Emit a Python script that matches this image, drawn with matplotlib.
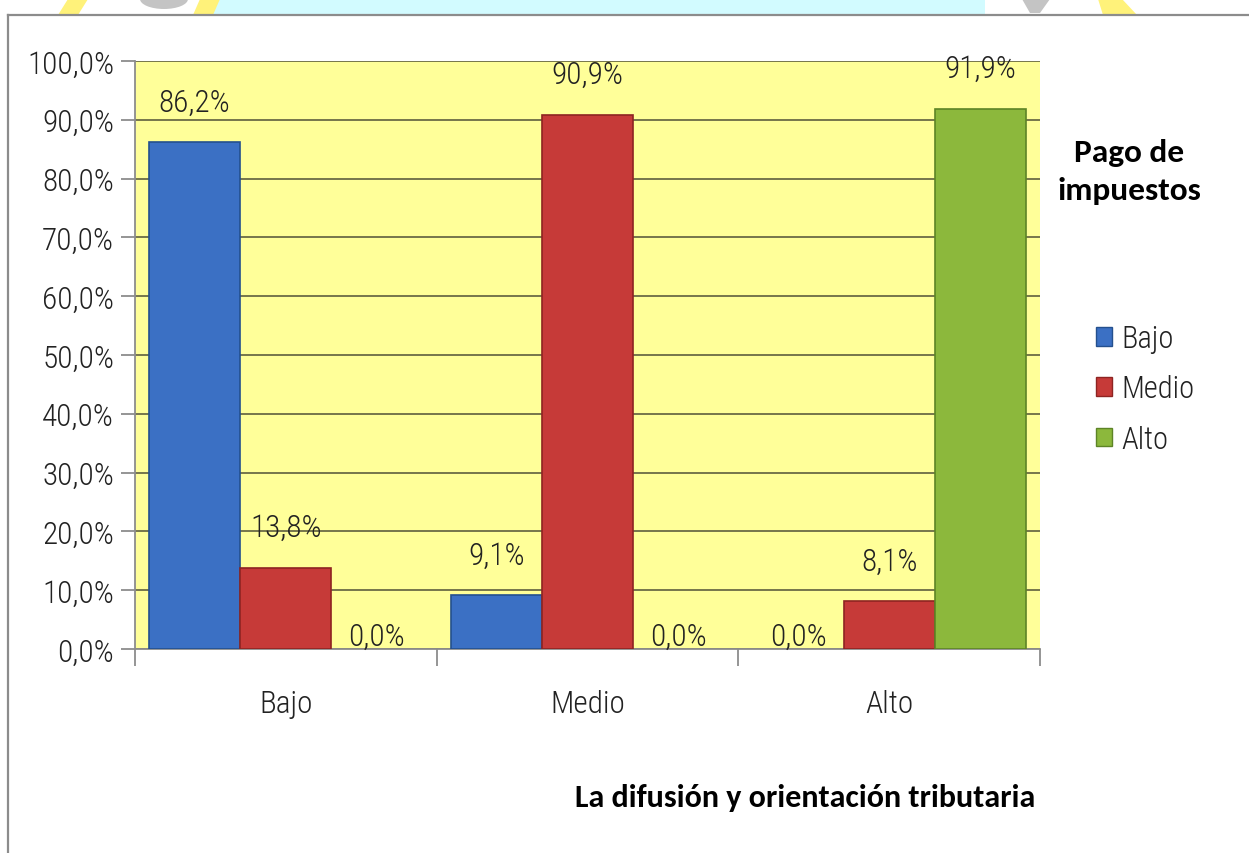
import matplotlib
matplotlib.use("Agg")
import matplotlib.pyplot as plt
from matplotlib.patches import Rectangle, Patch, Polygon, Ellipse
from matplotlib.lines import Line2D
import numpy as np

categories = ["Bajo", "Medio", "Alto"]
series_names = ["Bajo", "Medio", "Alto"]
bajo_vals = [86.2, 9.1, 0.0]
medio_vals = [13.8, 90.9, 8.1]
alto_vals = [0.0, 0.0, 91.9]
yticks = [0, 10, 20, 30, 40, 50, 60, 70, 80, 90, 100]

colors = ["#3b70c4", "#c63a38", "#8cb83c"]
edges = ["#24508e", "#8e2422", "#5d8426"]

W, H = 1249, 854
fig = plt.figure(figsize=(W / 100, H / 100), dpi=100)
fig.patch.set_facecolor("white")


def px(xp, yp):
    return (xp / W, 1 - yp / H)


# partial watermark above the chart frame
fig.add_artist(Rectangle(px(213, 16), 772 / W, 16 / H, transform=fig.transFigure,
                         facecolor="#d2fbff", edgecolor="none", zorder=0))
for poly, col in [([(58, 16), (78, 16), (88, 0), (68, 0)], "#fff27a"),
                  ([(193, 16), (213, 16), (220, 0), (200, 0)], "#fff27a"),
                  ([(1103, 16), (1137, 16), (1122, 0), (1098, 0)], "#fff27a"),
                  ([(1022, 0), (1050, 0), (1040, 14), (1030, 14)], "#c4c4c4")]:
    fig.add_artist(Polygon([px(a, b) for a, b in poly], closed=True, transform=fig.transFigure,
                           facecolor=col, edgecolor="none", zorder=0))
fig.add_artist(Ellipse(px(164, 0), 48 / W, 20 / H, transform=fig.transFigure,
                       facecolor="#c4c4c4", edgecolor="none", zorder=0))

# chart frame
fig.add_artist(Line2D([8 / W, 1], [1 - 16 / H, 1 - 16 / H], transform=fig.transFigure,
                      color="#8c8c8c", lw=1.6))
fig.add_artist(Line2D([8 / W, 8 / W], [0, 1 - 16 / H], transform=fig.transFigure,
                      color="#8c8c8c", lw=1.6))

ax = fig.add_axes([135 / W, 1 - 650 / H, (1040 - 135) / W, (650 - 62) / H])
ax.set_facecolor("#ffff99")
ax.set_xlim(-0.5, 2.5)
ax.set_ylim(0, 100)

bw = 0.302
x = np.arange(len(categories))
all_vals = [bajo_vals, medio_vals, alto_vals]
tick_font = dict(family="Roboto Condensed", weight=300, size=22.5, color="#222222")
for i, vals in enumerate(all_vals):
    xs = x + (i - 1) * bw
    lws = [1.2 if v > 0 else 0 for v in vals]
    ax.bar(xs, vals, width=bw, color=colors[i], edgecolor=edges[i], linewidth=lws,
           label=series_names[i], zorder=3)
    for xi, v in zip(xs, vals):
        off = 29 if v > 0 else 9
        ax.annotate(f"{v:.1f}%".replace(".", ","), (xi, v), xytext=(0, off),
                    textcoords="offset points", ha="center", va="center",
                    zorder=4, **tick_font)

ax.set_yticks(yticks)
ax.set_yticklabels([f"{t:.1f}%".replace(".", ",") for t in yticks], **tick_font)
ax.yaxis.grid(True, color="#6b6b45", linewidth=1.3, zorder=1)
ax.set_axisbelow(True)
ax.set_xticks(x)
ax.set_xticklabels(categories, **tick_font)
ax.set_xticks([-0.5, 0.5, 1.5, 2.5], minor=True)
ax.tick_params(axis="x", which="major", length=0, pad=29)
ax.tick_params(axis="x", which="minor", length=12, color="#8c8c8c", width=1.3)
ax.tick_params(axis="y", length=10, color="#8c8c8c", width=1.3, pad=5)
for s in ["top", "right"]:
    ax.spines[s].set_visible(False)
for s in ["left", "bottom"]:
    ax.spines[s].set_color("#8c8c8c")
    ax.spines[s].set_linewidth(1.3)

fig.text(1129 / W, 1 - 172 / H, "Pago de\nimpuestos", ha="center", va="center",
         family="Carlito", weight="bold", size=24, linespacing=1.45)
fig.text(805 / W, 1 - 798 / H, "La difusión y orientación tributaria", ha="center", va="center",
         family="Carlito", weight="bold", size=23)

handles = [Patch(facecolor=colors[i], edgecolor=edges[i]) for i in range(3)]
leg = fig.legend(handles, series_names, loc="center left", bbox_to_anchor=(1068 / W, 1 - 390 / H),
                 frameon=False, prop=dict(family="Roboto Condensed", weight=300, size=22),
                 handlelength=0.55, handleheight=0.55, handletextpad=0.3, labelspacing=0.7)
for t in leg.get_texts():
    t.set_color("#222222")

fig.savefig("out.png", dpi=100)
